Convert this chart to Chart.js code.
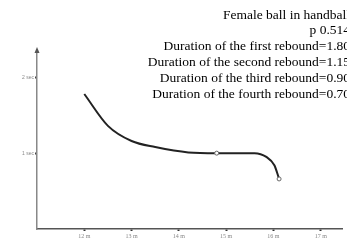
<!DOCTYPE html>
<html>
<head>
<meta charset="utf-8">
<script src="https://cdn.jsdelivr.net/npm/chart.js@4.4.1/dist/chart.umd.min.js"></script>
<style>
  html, body { margin: 0; padding: 0; background: #fff; }
  #wrap { width: 347px; height: 243px; position: relative; }
</style>
</head>
<body>
<div id="wrap"><canvas id="lineChart"></canvas></div>
<script>
// values
const distances = [12.0, 12.5, 13.0, 13.5, 14.2, 14.8, 15.6, 15.85, 16.02, 16.12];
const durations = [1.78, 1.36, 1.16, 1.08, 1.01, 1.00, 1.00, 0.95, 0.84, 0.66];
const xTickValues = [12, 13, 14, 15, 16, 17];
const xTickLabels = ['12 m', '13 m', '14 m', '15 m', '16 m', '17 m'];
const yTickValues = [1, 2];
const yTickLabels = ['1 sec', '2 sec'];
const titleLines = [
  'Female ball in handball',
  'p 0.514',
  'Duration of the first rebound=1.80',
  'Duration of the second rebound=1.15',
  'Duration of the third rebound=0.90',
  'Duration of the fourth rebound=0.70'
];
const markedPoints = [5, distances.length - 1];

const points = distances.map((d, i) => ({ x: d, y: durations[i] }));

// text block in the top right, plus arrow head on the y axis
const overlay = {
  id: 'overlay',
  afterDraw(chart) {
    const ctx = chart.ctx;
    const ys = chart.scales.y;
    const xs = chart.scales.x;
    ctx.save();
    ctx.fillStyle = '#555';
    ctx.beginPath();
    ctx.moveTo(xs.left, ys.top - 3);
    ctx.lineTo(xs.left - 2.5, ys.top + 3);
    ctx.lineTo(xs.left + 2.5, ys.top + 3);
    ctx.closePath();
    ctx.fill();

    ctx.fillStyle = '#000';
    ctx.font = '13.5px "Liberation Serif", "Times New Roman", serif';
    ctx.textAlign = 'right';
    ctx.textBaseline = 'middle';
    titleLines.forEach((t, i) => {
      ctx.fillText(t, 350, 15 + i * 15.8);
    });
    ctx.restore();
  }
};

new Chart(document.getElementById('lineChart'), {
  type: 'line',
  data: {
    datasets: [{
      data: points,
      borderColor: '#222',
      borderWidth: 2,
      cubicInterpolationMode: 'monotone',
      pointRadius: ctx => markedPoints.includes(ctx.dataIndex) ? 2 : 0,
      pointBackgroundColor: '#fff',
      pointBorderColor: '#666',
      pointBorderWidth: 1
    }]
  },
  options: {
    responsive: true,
    maintainAspectRatio: false,
    animation: false,
    layout: { padding: { top: 50, left: 0, right: 0, bottom: 0 } },
    plugins: {
      legend: { display: false },
      tooltip: { enabled: false }
    },
    scales: {
      x: {
        type: 'linear',
        min: 11,
        max: 17.45,
        afterBuildTicks: s => { s.ticks = xTickValues.map(v => ({ value: v })); },
        afterFit: s => { s.height = 14; },
        border: { color: '#555', width: 1.5 },
        grid: { drawOnChartArea: false, tickLength: 2, tickWidth: 2, color: '#333' },
        ticks: {
          padding: 2,
          maxRotation: 0,
          color: '#888',
          font: { family: 'Liberation Serif', size: 6 },
          callback: v => xTickLabels[xTickValues.indexOf(v)]
        }
      },
      y: {
        min: 0,
        max: 2.36,
        afterBuildTicks: s => { s.ticks = yTickValues.map(v => ({ value: v })); },
        afterFit: s => { s.width = 37; },
        border: { color: '#888', width: 1.5 },
        grid: { drawOnChartArea: false, tickLength: 2, tickWidth: 2, color: '#444' },
        ticks: {
          padding: 1,
          color: '#888',
          font: { family: 'Liberation Sans', size: 5 },
          callback: v => yTickLabels[yTickValues.indexOf(v)]
        }
      }
    }
  },
  plugins: [overlay]
});
</script>
</body>
</html>
